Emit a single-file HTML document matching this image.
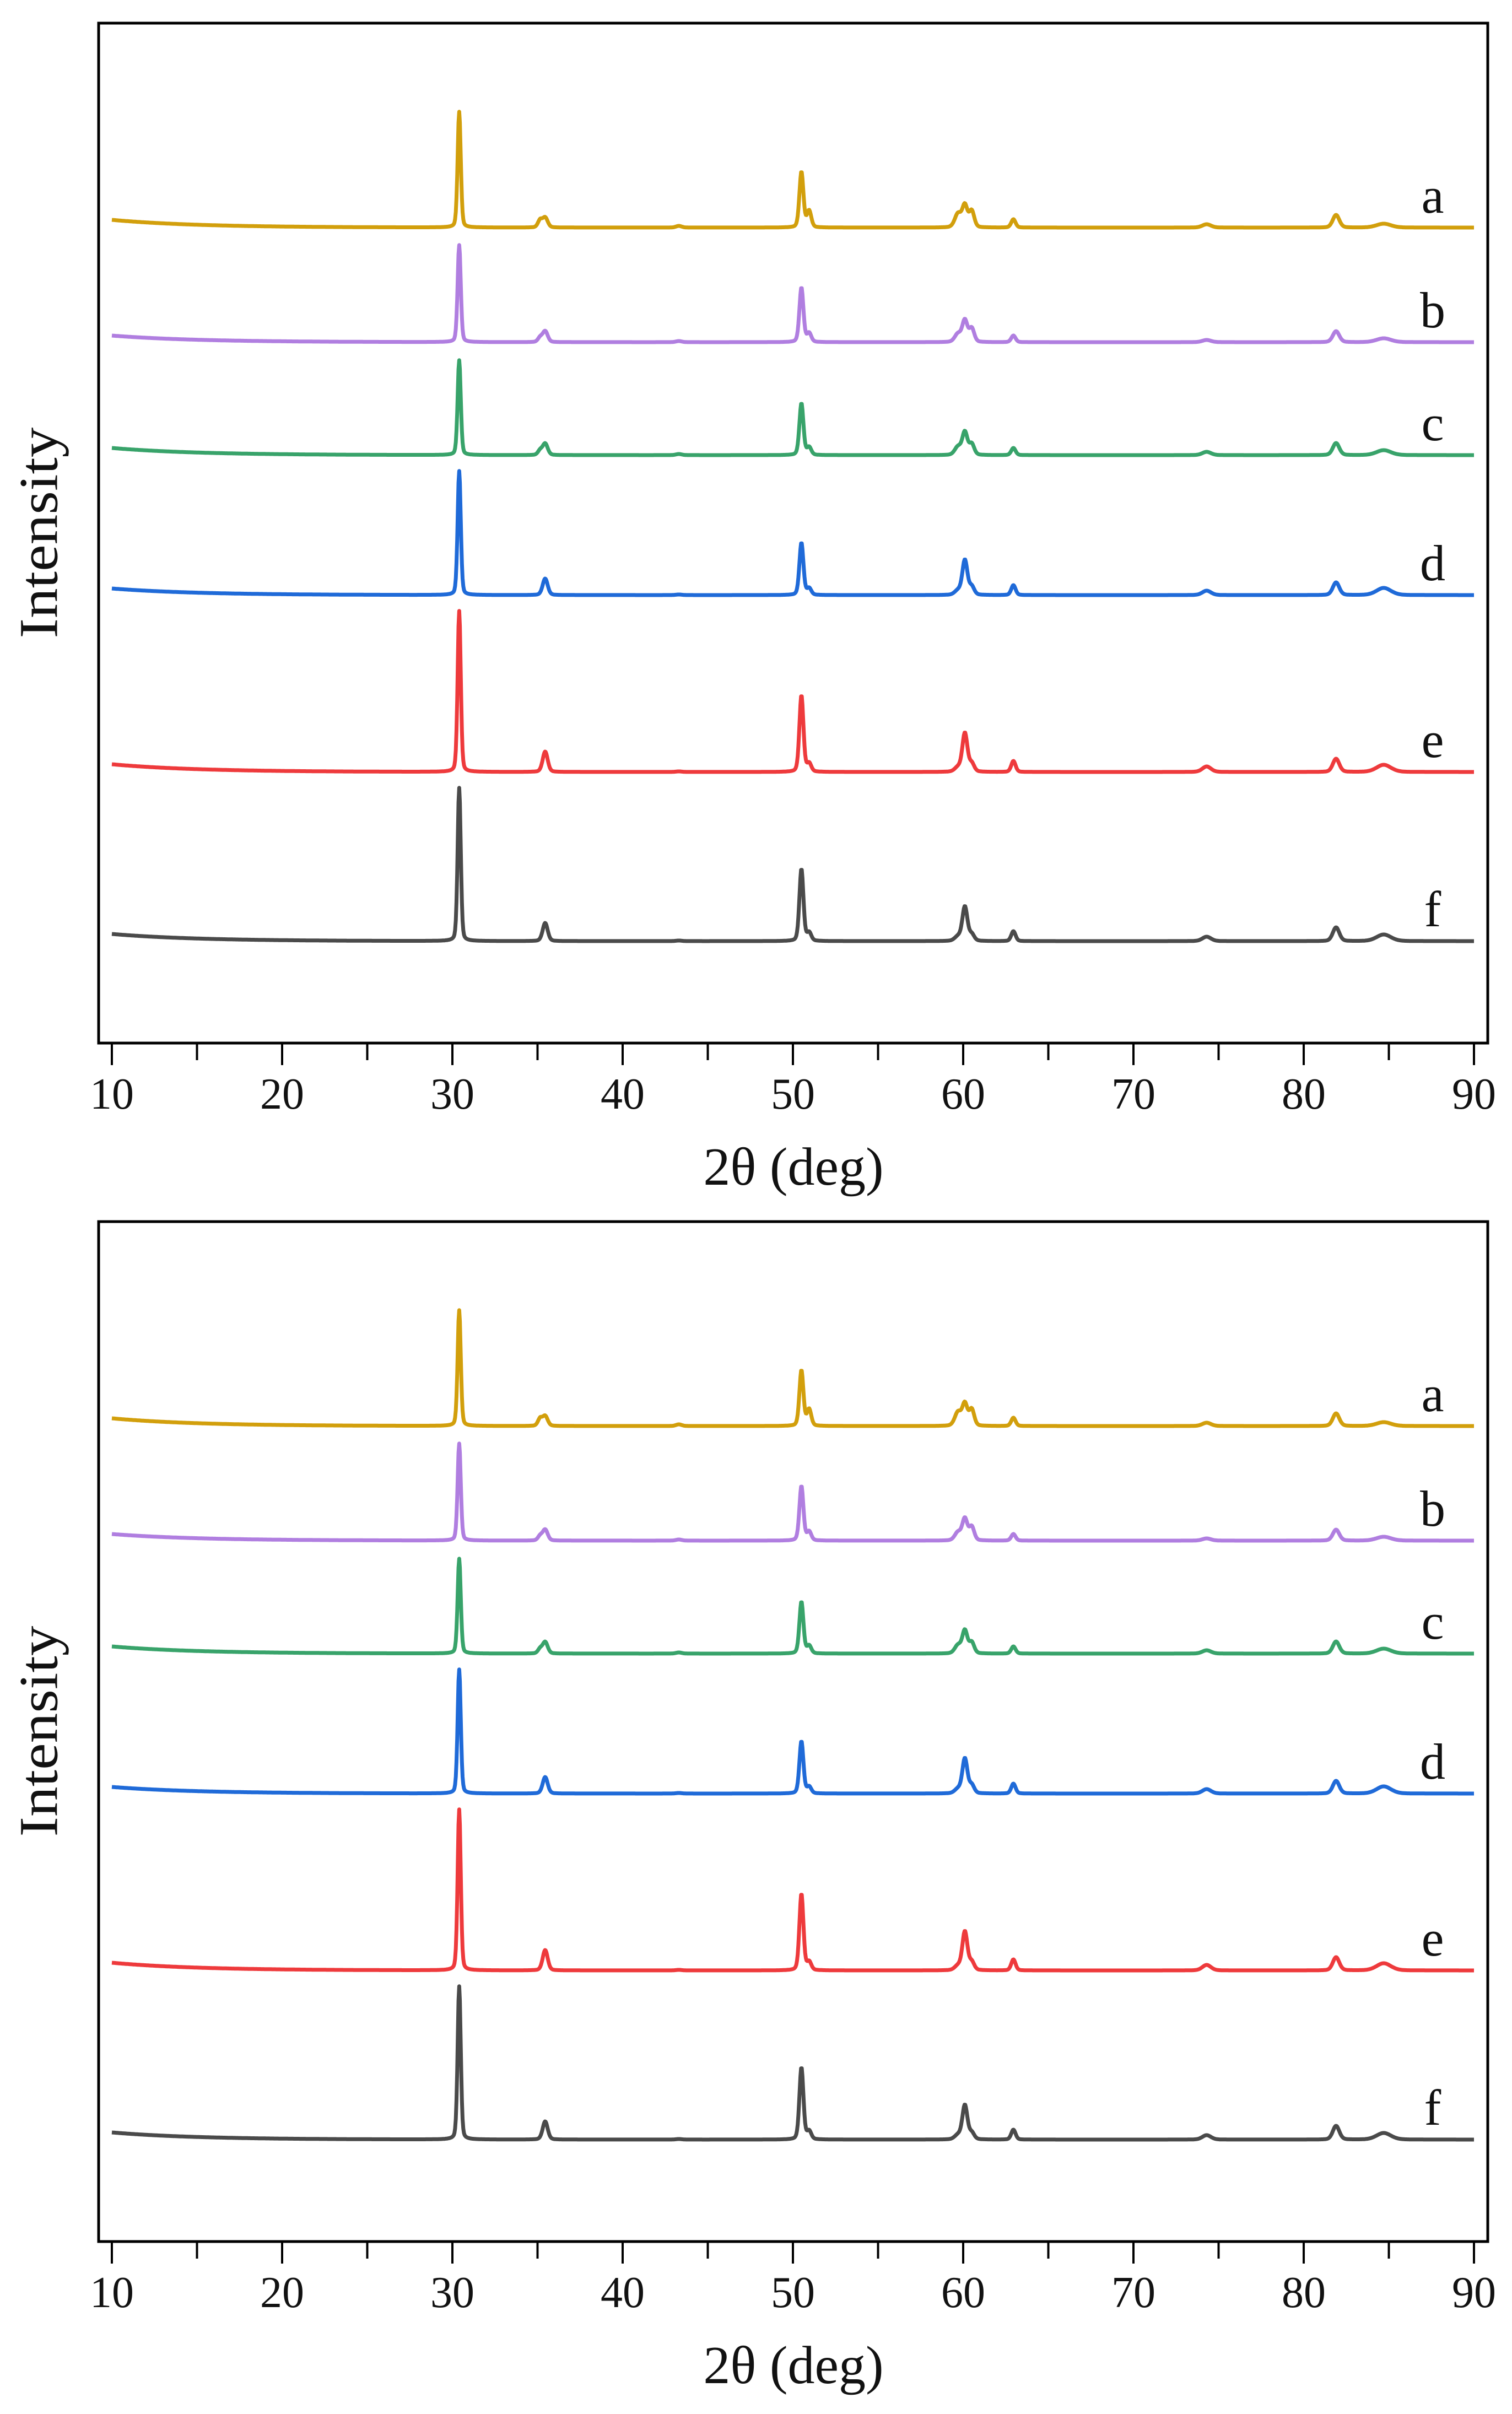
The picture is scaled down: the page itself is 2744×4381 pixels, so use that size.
<!DOCTYPE html>
<html><head><meta charset="utf-8"><style>
html,body{margin:0;padding:0;background:#fff;}
svg{display:block;}
text{font-family:"Liberation Serif",serif;fill:#111;}
</style></head>
<body>
<svg id="chart" width="2744" height="4381" viewBox="0 0 2744 4381" xmlns="http://www.w3.org/2000/svg"></svg>
<script>
const seriesNames = ["a","b","c","d","e","f"];
const seriesColors = ["#d29f0c","#b07ee0","#38a36a","#1f6ad8","#ee3a3c","#4a4a4a"];
const seriesOffsets = [1480,1272,1067,813,492,185];
const backgroundStart = [14,12,13,12,14,13];
const peakPositions = [30.4,35.15,35.45,43.3,50.5,50.95,59.7,60.1,60.5,62.95,74.3,81.9,84.7];
const peakWidths = [0.22,0.3,0.35,0.4,0.28,0.3,0.45,0.35,0.35,0.3,0.6,0.45,1.0];
const heightsA = [210,13,18,3,101,30,25,39,30,15,6,23,7];
const heightsB = [176,8,20,2,99,16,15,39,25,12,4,20,7];
const heightsC = [172,8,21,2,94,14,15,41,20,13,6,22,9];
const heightsD = [225,0,30,1,95,12,8,63,15,18,8,23,13];
const heightsE = [292,0,37,1,139,15,8,70,15,20,10,24,13];
const heightsF = [278,0,33,1,131,15,8,62,12,18,8,25,12];
const allHeights = [heightsA,heightsB,heightsC,heightsD,heightsE,heightsF];
const xTicks = [10,20,30,40,50,60,70,80,90];
const xMinorTicks = [15,25,35,45,55,65,75,85];

const NS = "http://www.w3.org/2000/svg";
const svg = document.getElementById('chart');
const X0 = 203, X1 = 2675;
function xs(v){ return X0 + (v-10)/(90-10)*(X1-X0); }
function mk(tag, attrs, parent){
  const e = document.createElementNS(NS, tag);
  for (const k in attrs) e.setAttribute(k, attrs[k]);
  (parent||svg).appendChild(e);
  return e;
}
function intensity(si, t){
  let v = seriesOffsets[si] + backgroundStart[si]*Math.exp(-(t-10)/5);
  const h = allHeights[si];
  for (let k=0;k<peakPositions.length;k++){
    const w = peakWidths[k]/2, d = t-peakPositions[k];
    const g = Math.exp(-Math.LN2*d*d/(w*w));
    const l = 1/(1+d*d/(w*w));
    v += h[k]*(0.75*g+0.25*l);
  }
  return v;
}
function drawPanel(p, dy){
  const g = mk('g', {transform:'translate(0,'+dy+')'});
  
  
  const yBase = 1893;
  function ys(v){ return yBase - v; }
  const frame = mk('rect', {x:179, y:42, width:2521, height:1851, fill:'none', stroke:'#000', 'stroke-width':5}, g);
  
  
  xTicks.forEach(t=>{
    const tk = mk('line', {x1:xs(t), x2:xs(t), y1:1895, y2:1933, stroke:'#000', 'stroke-width':4}, g);
    
    
    const lb = mk('text', {x:xs(t), y:1986, 'font-size':80, 'text-anchor':'middle', 'dominant-baseline':'central'}, g);
    lb.textContent = String(t);
    
    
  });
  xMinorTicks.forEach(t=>{
    const tk = mk('line', {x1:xs(t), x2:xs(t), y1:1895, y2:1924, stroke:'#000', 'stroke-width':4}, g);
    
    
  });
  const xt = mk('text', {x:1440, y:2118, 'font-size':98, 'text-anchor':'middle', 'dominant-baseline':'central'}, g);
  xt.textContent = "2θ (deg)";
  
  
  const yt = mk('text', {x:0, y:0, 'font-size':100, 'text-anchor':'middle', 'dominant-baseline':'central', transform:'translate(70,967) rotate(-90)', textLength:383, lengthAdjust:'spacingAndGlyphs'}, g);
  yt.textContent = "Intensity";
  
  
  seriesNames.forEach((nm, si)=>{
    let d = '';
    for (let t=10; t<=90.0001; t+=0.04){
      d += (d?'L':'M') + xs(t).toFixed(1) + ',' + ys(intensity(si,t)).toFixed(1);
    }
    const path = mk('path', {d:d, fill:'none', stroke:seriesColors[si], 'stroke-width':7, 'stroke-linejoin':'round'}, g);
    
    
    const lb = mk('text', {x:2600, y:ys(seriesOffsets[si])-58, 'font-size':92, 'text-anchor':'middle', 'dominant-baseline':'central'}, g);
    lb.textContent = nm;
    
    
  });
}
drawPanel(0, 0);
drawPanel(1, 2175);
</script>
</body></html>
